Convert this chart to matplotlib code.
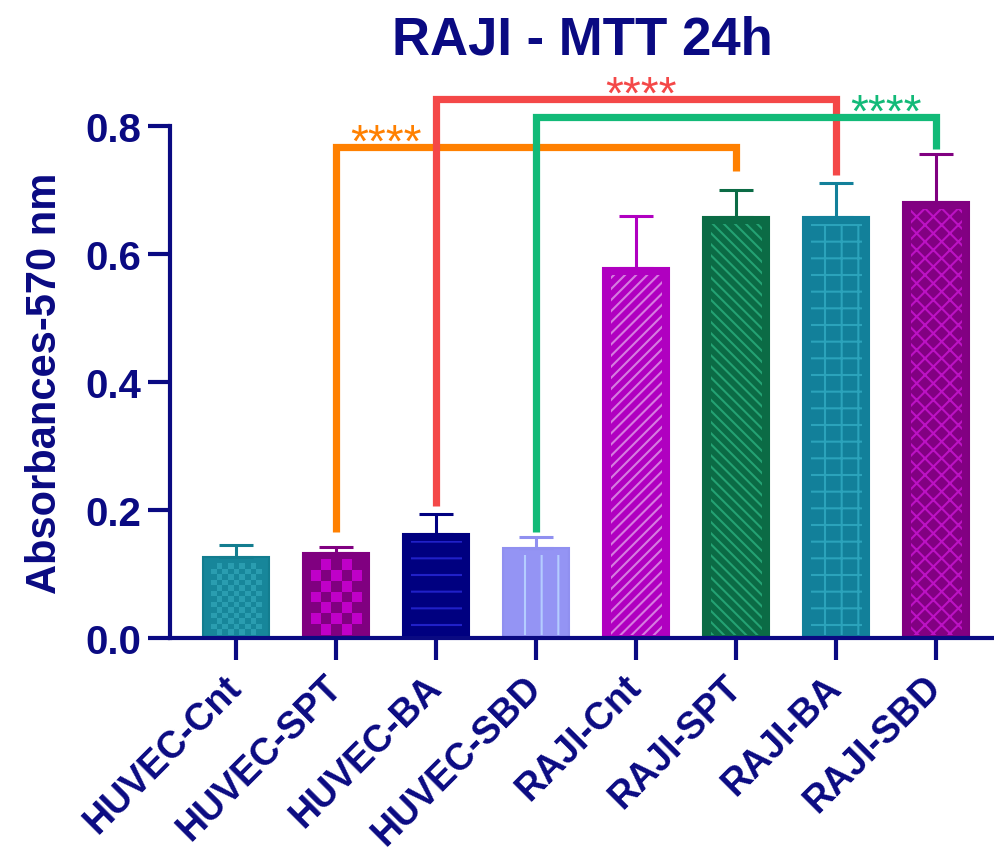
import numpy as np
import matplotlib
matplotlib.use("Agg")
import matplotlib.pyplot as plt
from matplotlib.colors import ListedColormap

plt.rcParams['font.family'] = ['Liberation Sans', 'DejaVu Sans']
plt.rcParams['font.weight'] = 'bold'
plt.rcParams['hatch.linewidth'] = 1.5

NAVY = '#0a0a82'

# group names and MTT absorbance (mean, upper SD)
groups = ['HUVEC-Cnt', 'HUVEC-SPT', 'HUVEC-BA', 'HUVEC-SBD',
          'RAJI-Cnt', 'RAJI-SPT', 'RAJI-BA', 'RAJI-SBD']
means = [0.127, 0.133, 0.162, 0.141, 0.578, 0.658, 0.658, 0.681]
sds = [0.018, 0.009, 0.032, 0.017, 0.081, 0.042, 0.053, 0.075]

# bar styling
fills = ['#17869a', '#800080', '#000080', '#9494f4',
         '#b000c0', '#0b6b45', '#12809a', '#820082']
edges = ['#137d8f', '#800080', '#000080', '#9090f0',
         '#b000c0', '#0b6b45', '#12809a', '#800080']
pattern_colors = ['#2a9db0', '#c000c8', '#2020c8', '#b4ccff',
                  '#d67ce0', '#24a273', '#2ba3bb', '#bc12c4']
hatches = [None, None, '-', '|', '///', '\\\\\\', '+', 'xx']
checker_cells = [0.055, 0.11, None, None, None, None, None, None]

# significance brackets: (left bar, right bar, left foot, right foot, top, star x)
brackets = [
    (1, 5, 0.166, 0.730, 0.767, 1.5, '#ff8000'),
    (2, 6, 0.206, 0.723, 0.842, 4.05, '#f44848'),
    (3, 7, 0.166, 0.764, 0.814, 6.5, '#12ba78'),
]
stars = '****'

fig = plt.figure(figsize=(9.95, 8.54), dpi=100)
ax = fig.add_axes([0.1709, 0.2518, 0.8291, 0.6745])

x = np.arange(len(groups))
width = 0.66
bars = ax.bar(x, means, width=width, color=fills, edgecolor=edges,
              linewidth=1.5, zorder=2)

# inner pattern, inset from the bar outline
inx, intop, inbot = 0.075, 0.011, 0.004
for i, b in enumerate(bars):
    x0 = b.get_x() + inx
    x1 = b.get_x() + b.get_width() - inx
    y0 = inbot
    y1 = b.get_height() - intop
    if checker_cells[i] is not None:
        cx = checker_cells[i]
        cy = cx * 100 / 640
        nc = max(1, int(round((x1 - x0) / cx)))
        nr = max(1, int(round((y1 - y0) / cy)))
        board = np.indices((nr, nc)).sum(axis=0) % 2
        ax.imshow(board, extent=(x0, x1, y0, y1), origin='lower',
                  cmap=ListedColormap([fills[i], pattern_colors[i]]),
                  interpolation='nearest', aspect='auto', zorder=3)
    else:
        p = ax.bar(b.get_x() + b.get_width() / 2, y1 - y0, bottom=y0,
                   width=x1 - x0, color='none', edgecolor=pattern_colors[i],
                   linewidth=0, zorder=3)[0]
        p.set_hatch(hatches[i])

for i in range(len(groups)):
    ax.errorbar(x[i], means[i], yerr=[[0], [sds[i]]], fmt='none',
                ecolor=edges[i], elinewidth=2.2, capsize=12, capthick=2.2,
                zorder=4)

for l, r, yl, yr, top, sx, c in brackets:
    ax.plot([x[l], x[l], x[r], x[r]], [yl, top, top, yr], color=c,
            linewidth=5.2, solid_joinstyle='miter', solid_capstyle='butt',
            zorder=5)
    ax.text(sx, top - 0.014, stars, color=c, fontsize=33, fontweight='normal',
            ha='center', va='baseline', zorder=6)

ax.set_xlim(-0.66, 7.59)
ax.set_ylim(0, 0.9)
ax.set_yticks([0.0, 0.2, 0.4, 0.6, 0.8])
ax.set_yticklabels(['0.0', '0.2', '0.4', '0.6', '0.8'])
ax.set_xticks(x)
ax.set_xticklabels(groups, rotation=45, ha='right', va='center',
                   rotation_mode='anchor')

for s in ['top', 'right']:
    ax.spines[s].set_visible(False)
for s in ['left', 'bottom']:
    ax.spines[s].set_color(NAVY)
    ax.spines[s].set_linewidth(3)
ax.spines['left'].set_bounds(0, 0.8)
ax.tick_params(axis='both', colors=NAVY, width=3, length=16, labelsize=29)
ax.tick_params(axis='y', pad=5)
ax.tick_params(axis='x', pad=15, labelsize=27)
for lab in ax.get_xticklabels() + ax.get_yticklabels():
    lab.set_fontweight('bold')

ax.set_ylabel('Absorbances-570 nm', fontsize=30, fontweight='bold', color=NAVY)
ax.yaxis.set_label_coords(-0.127, 0.444)

fig.text(0.585, 0.982, 'RAJI - MTT 24h', fontsize=38, fontweight='bold',
         color=NAVY, ha='center', va='top')

fig.savefig('out.png', dpi=100)
